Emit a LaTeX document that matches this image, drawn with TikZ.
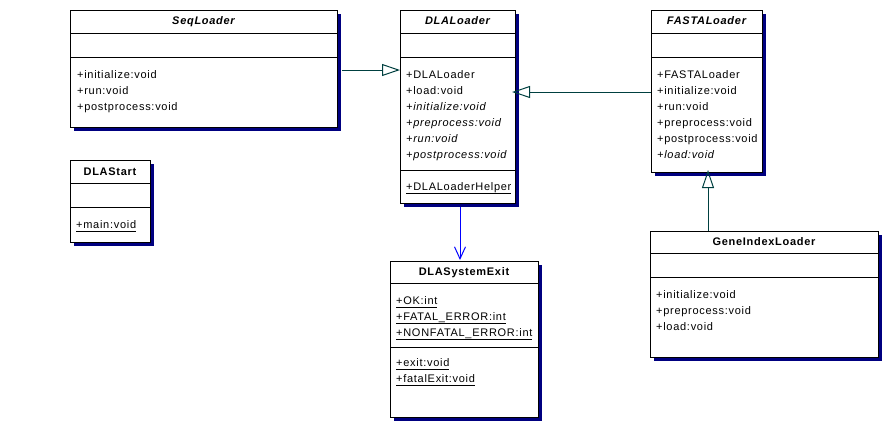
\documentclass[tikz,border=0pt]{standalone}
\usepackage{fontspec}
\setmainfont{Liberation Sans}[LetterSpace=6.5]
\usetikzlibrary{arrows.meta}
\usetikzlibrary{shadows}
\definecolor{shadowBlue}{RGB}{0,0,128}
\definecolor{genTeal}{RGB}{0,64,64}
\definecolor{depBlue}{RGB}{0,0,255}
\newcommand{\staticMember}[1]{\setbox0\hbox{#1}\rlap{\rule[-3.5pt]{\wd0}{1pt}}\box0}

\begin{document}
\begin{tikzpicture}[x = 1pt, y = -1pt]
	\tikzstyle{classStyle} = [draw, line width = 1pt, fill = white, anchor = north west, inner sep = 0pt, drop shadow = {shadow xshift = 3pt, shadow yshift = -3pt, opacity = 1, fill = shadowBlue}]
	\tikzstyle{sepStyle} = [line width = 1pt]
	\tikzstyle{abstractStyle} = [anchor = base, inner sep = 0pt, font = \fontsize{11}{13}\selectfont\bfseries\itshape]
	\tikzstyle{nameStyle} = [anchor = base, inner sep = 0pt, font = \fontsize{11}{13}\selectfont\bfseries]
	\tikzstyle{memberStyle} = [anchor = base west, inner sep = 0pt, font = \fontsize{11}{13}\selectfont]
	\tikzstyle{genStyle} = [genTeal, line width = 1pt, -{Triangle[open, length = 18pt, width = 12pt]}]
	\tikzstyle{depStyle} = [depBlue, line width = 1pt, -{Straight Barb[length = 12pt, width = 11pt]}]
	\useasboundingbox (0,0) rectangle (891,421);
	% SeqLoader
	\node[classStyle, minimum width = 267pt, minimum height = 117pt] (seq) at (70,10) {};
	\draw[sepStyle] (seq.west |- 0,33) -- (seq.east |- 0,33);
	\draw[sepStyle] (seq.west |- 0,57) -- (seq.east |- 0,57);
	\node[abstractStyle] (seqName) at (203.5,24) {SeqLoader};
	\node[memberStyle] (seqM1) at (77,78) {+initialize:void};
	\node[memberStyle] (seqM2) at (77,94) {+run:void};
	\node[memberStyle] (seqM3) at (77,110) {+postprocess:void};
	% DLALoader
	\node[classStyle, minimum width = 115pt, minimum height = 193pt] (dla) at (400,10) {};
	\draw[sepStyle] (dla.west |- 0,33) -- (dla.east |- 0,33);
	\draw[sepStyle] (dla.west |- 0,57) -- (dla.east |- 0,57);
	\draw[sepStyle] (dla.west |- 0,170) -- (dla.east |- 0,170);
	\node[abstractStyle] (dlaName) at (457.5,24) {DLALoader};
	\node[memberStyle] (dlaM1) at (406,78) {+DLALoader};
	\node[memberStyle] (dlaM2) at (406,94) {+load:void};
	\node[memberStyle] (dlaM3) at (406,110) {\itshape +initialize:void};
	\node[memberStyle] (dlaM4) at (406,126) {\itshape +preprocess:void};
	\node[memberStyle] (dlaM5) at (406,142) {\itshape +run:void};
	\node[memberStyle] (dlaM6) at (406,158) {\itshape +postprocess:void};
	\node[memberStyle] (dlaM7) at (406,190) {\staticMember{+DLALoaderHelper}};
	% FASTALoader
	\node[classStyle, minimum width = 111pt, minimum height = 162pt] (fasta) at (651,10) {};
	\draw[sepStyle] (fasta.west |- 0,33) -- (fasta.east |- 0,33);
	\draw[sepStyle] (fasta.west |- 0,57) -- (fasta.east |- 0,57);
	\node[abstractStyle] (fastaName) at (706.5,24) {FASTALoader};
	\node[memberStyle] (fastaM1) at (657,78) {+FASTALoader};
	\node[memberStyle] (fastaM2) at (657,94) {+initialize:void};
	\node[memberStyle] (fastaM3) at (657,110) {+run:void};
	\node[memberStyle] (fastaM4) at (657,126) {+preprocess:void};
	\node[memberStyle] (fastaM5) at (657,142) {+postprocess:void};
	\node[memberStyle] (fastaM6) at (657,158) {\itshape +load:void};
	% DLAStart
	\node[classStyle, minimum width = 80pt, minimum height = 82pt] (start) at (70,160) {};
	\draw[sepStyle] (start.west |- 0,183) -- (start.east |- 0,183);
	\draw[sepStyle] (start.west |- 0,207) -- (start.east |- 0,207);
	\node[nameStyle] (startName) at (110,175) {DLAStart};
	\node[memberStyle] (startM1) at (76,228) {\staticMember{+main:void}};
	% DLASystemExit
	\node[classStyle, minimum width = 148pt, minimum height = 156pt] (sysexit) at (390,261) {};
	\draw[sepStyle] (sysexit.west |- 0,283) -- (sysexit.east |- 0,283);
	\draw[sepStyle] (sysexit.west |- 0,347) -- (sysexit.east |- 0,347);
	\node[nameStyle] (sysexitName) at (464,275) {DLASystemExit};
	\node[memberStyle] (sysexitA1) at (396,304) {\staticMember{+OK:int}};
	\node[memberStyle] (sysexitA2) at (396,320) {\staticMember{+FATAL\_ERROR:int}};
	\node[memberStyle] (sysexitA3) at (396,336) {\staticMember{+NONFATAL\_ERROR:int}};
	\node[memberStyle] (sysexitM1) at (396,366) {\staticMember{+exit:void}};
	\node[memberStyle] (sysexitM2) at (396,382) {\staticMember{+fatalExit:void}};
	% GeneIndexLoader
	\node[classStyle, minimum width = 228pt, minimum height = 126pt] (gene) at (650,231) {};
	\draw[sepStyle] (gene.west |- 0,253) -- (gene.east |- 0,253);
	\draw[sepStyle] (gene.west |- 0,277) -- (gene.east |- 0,277);
	\node[nameStyle] (geneName) at (764,245) {GeneIndexLoader};
	\node[memberStyle] (geneM1) at (656,298) {+initialize:void};
	\node[memberStyle] (geneM2) at (656,314) {+preprocess:void};
	\node[memberStyle] (geneM3) at (656,330) {+load:void};
	% connectors
	\draw[genStyle, shorten <= 4pt] (seq.east |- 0,70) -- (dla.west |- 0,70);
	\draw[genStyle, shorten >= -4pt] (fasta.west |- 0,92) -- (dla.east |- 0,92);
	\draw[genStyle, shorten >= -3pt] (gene.north -| 708,0) -- (fasta.south -| 708,0);
	\draw[depStyle, shorten <= 3pt, shorten >= 1pt] (dla.south -| 460,0) -- (sysexit.north -| 460,0);
\end{tikzpicture}
\end{document}
